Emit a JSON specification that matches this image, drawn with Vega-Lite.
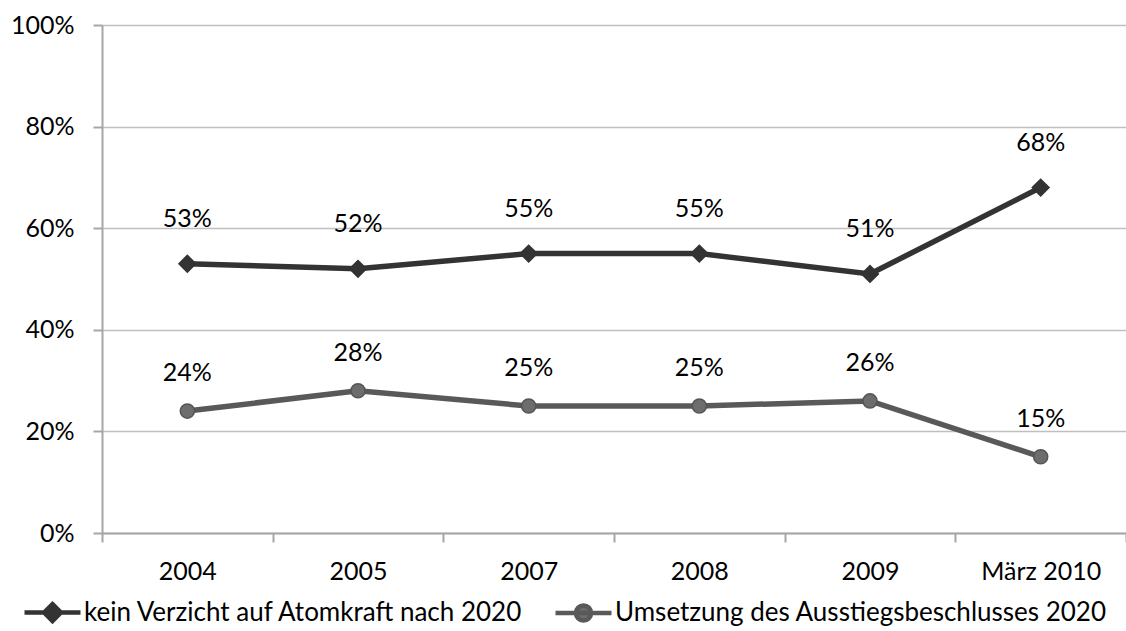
{
  "$schema": "https://vega.github.io/schema/vega-lite/v6.json",
  "autosize": {"type": "none"},
  "width": 1024,
  "height": 508,
  "padding": {"left": 102, "top": 25, "right": 0, "bottom": 98},
  "background": "white",
  "config": {
    "view": {"stroke": null},
    "font": "Lato",
    "axis": {"labelFont": "Lato", "labelFontSize": 25, "labelColor": "#000000", "titleFont": "Lato"},
    "legend": {"labelFont": "Lato", "labelFontSize": 26, "labelColor": "#000000"}
  },
  "data": {
    "values": [
      {"jahr": "2004", "serie": "kein Verzicht auf Atomkraft nach 2020", "wert": 0.53},
      {"jahr": "2005", "serie": "kein Verzicht auf Atomkraft nach 2020", "wert": 0.52},
      {"jahr": "2007", "serie": "kein Verzicht auf Atomkraft nach 2020", "wert": 0.55},
      {"jahr": "2008", "serie": "kein Verzicht auf Atomkraft nach 2020", "wert": 0.55},
      {"jahr": "2009", "serie": "kein Verzicht auf Atomkraft nach 2020", "wert": 0.51},
      {"jahr": "März 2010", "serie": "kein Verzicht auf Atomkraft nach 2020", "wert": 0.68},
      {"jahr": "2004", "serie": "Umsetzung des Ausstiegsbeschlusses 2020", "wert": 0.24},
      {"jahr": "2005", "serie": "Umsetzung des Ausstiegsbeschlusses 2020", "wert": 0.28},
      {"jahr": "2007", "serie": "Umsetzung des Ausstiegsbeschlusses 2020", "wert": 0.25},
      {"jahr": "2008", "serie": "Umsetzung des Ausstiegsbeschlusses 2020", "wert": 0.25},
      {"jahr": "2009", "serie": "Umsetzung des Ausstiegsbeschlusses 2020", "wert": 0.26},
      {"jahr": "März 2010", "serie": "Umsetzung des Ausstiegsbeschlusses 2020", "wert": 0.15}
    ]
  },
  "encoding": {
    "x": {
      "field": "jahr", "type": "nominal", "sort": null,
      "scale": {"paddingInner": 0, "paddingOuter": 0},
      "axis": {
        "title": null, "labelAngle": 0, "tickBand": "extent",
        "domainColor": "#a6a6a6", "domainWidth": 2,
        "tickColor": "#a6a6a6", "tickWidth": 2, "tickSize": 9,
        "labelPadding": 17, "grid": false
      }
    },
    "y": {
      "field": "wert", "type": "quantitative",
      "scale": {"domain": [0, 1], "nice": false},
      "axis": {
        "title": null, "format": ".0%", "values": [0, 0.2, 0.4, 0.6, 0.8, 1],
        "domainColor": "#a6a6a6", "domainWidth": 2,
        "tickColor": "#a6a6a6", "tickWidth": 2, "tickSize": 9,
        "gridColor": "#bfbfbf", "gridWidth": 1.5,
        "labelPadding": 19
      }
    }
  },
  "layer": [
    {
      "mark": {"type": "line", "strokeWidth": 5.5},
      "encoding": {
        "color": {
          "field": "serie", "type": "nominal", "sort": null,
          "scale": {"range": ["#333333", "#595959"]},
          "legend": {
            "title": null, "orient": "none", "legendX": -80, "legendY": 557,
            "direction": "horizontal", "columnPadding": 22, "symbolSize": 3136,
            "symbolStrokeWidth": 5, "labelOffset": 1, "columns": 2, "labelLimit": 0,
            "symbolType": "M-1,0H1",
            "encode": {
              "symbols": {
                "update": {
                  "shape": {"signal": "datum.value === 'kein Verzicht auf Atomkraft nach 2020' ? 'M-1,0H1M0,-0.3L0.3,0L0,0.3L-0.3,0Z' : 'M-1,0H1M0.27,0A0.27,0.27,0,1,1,-0.27,0A0.27,0.27,0,1,1,0.27,0Z'"},
                  "fill": {"signal": "datum.value === 'kein Verzicht auf Atomkraft nach 2020' ? '#333333' : '#6d6d6d'"},
                  "stroke": {"signal": "datum.value === 'kein Verzicht auf Atomkraft nach 2020' ? '#333333' : '#595959'"},
                  "strokeWidth": {"value": 4.5},
                  "opacity": {"value": 1}
                }
              }
            }
          }
        }
      }
    },
    {
      "mark": {"type": "point", "filled": true, "opacity": 1, "strokeWidth": 1.5},
      "encoding": {
        "shape": {
          "field": "serie", "type": "nominal", "sort": null,
          "scale": {"range": ["diamond", "circle"]}, "legend": null
        },
        "size": {
          "field": "serie", "type": "nominal", "sort": null,
          "scale": {"range": [280, 200]}, "legend": null
        },
        "fill": {
          "field": "serie", "type": "nominal", "sort": null,
          "scale": {"range": ["#333333", "#6d6d6d"]}, "legend": null
        },
        "stroke": {
          "field": "serie", "type": "nominal", "sort": null,
          "scale": {"range": ["#333333", "#555555"]}, "legend": null
        }
      }
    },
    {
      "transform": [{"filter": "datum.serie === 'kein Verzicht auf Atomkraft nach 2020'"}],
      "mark": {"type": "text", "dy": -45, "fontSize": 25, "font": "Lato", "color": "#000000"},
      "encoding": {
        "text": {"field": "wert", "type": "quantitative", "format": ".0%"}
      }
    },
    {
      "transform": [{"filter": "datum.serie === 'Umsetzung des Ausstiegsbeschlusses 2020'"}],
      "mark": {"type": "text", "dy": -38, "fontSize": 25, "font": "Lato", "color": "#000000"},
      "encoding": {
        "text": {"field": "wert", "type": "quantitative", "format": ".0%"}
      }
    }
  ]
}
